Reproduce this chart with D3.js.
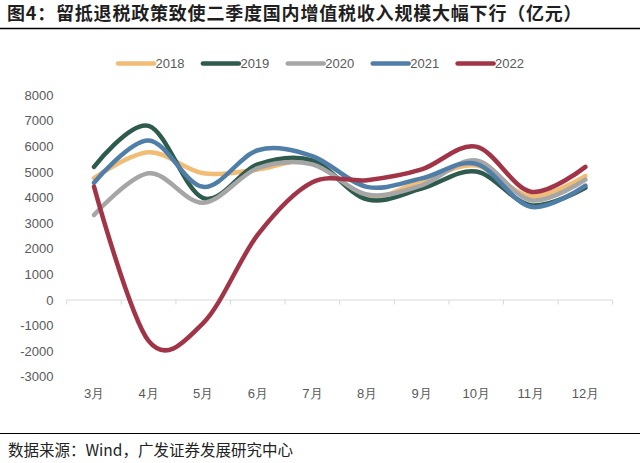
<!DOCTYPE html>
<html>
<head>
<meta charset="utf-8">
<script src="https://cdn.jsdelivr.net/npm/d3@7"></script>
<style>
  body { margin: 0; background: #fff; }
  svg { display: block; }
</style>
</head>
<body>
<script>
var months = ["3月", "4月", "5月", "6月", "7月", "8月", "9月", "10月", "11月", "12月"];
var years = ["2018", "2019", "2020", "2021", "2022"];
var yTicks = [8000, 7000, 6000, 5000, 4000, 3000, 2000, 1000, 0, -1000, -2000, -3000];

var v2018 = [4760, 5770, 4950, 5100, 5400, 4030, 4650, 5250, 4050, 4850];
var v2019 = [5200, 6800, 3980, 5300, 5450, 3930, 4350, 5020, 3700, 4380];
var v2020 = [3320, 4950, 3800, 5150, 5300, 4120, 4480, 5450, 3900, 4700];
var v2021 = [4580, 6230, 4420, 5850, 5620, 4420, 4750, 5320, 3640, 4470];
var v2022 = [4430, -1600, -900, 2550, 4600, 4680, 5100, 5990, 4230, 5200];

var series = [v2018, v2019, v2020, v2021, v2022];
var colors = ["#F1BC76", "#2F5A4E", "#A6A6A6", "#4F7EA8", "#A23447"];

var W = 640, H = 463;

var svg = d3.select("body").append("svg")
    .attr("width", W)
    .attr("height", H);

// title
svg.append("text")
    .attr("x", 7)
    .attr("y", 14)
    .attr("dy", "0.35em")
    .attr("font-family", "'Noto Sans CJK SC', sans-serif")
    .attr("font-weight", "bold")
    .attr("font-size", "18px")
    .attr("letter-spacing", "0.8px")
    .attr("fill", "#1f1f1f")
    .text("图4：留抵退税政策致使二季度国内增值税收入规模大幅下行（亿元）");

svg.append("line")
    .attr("x1", 0).attr("x2", W)
    .attr("y1", 28.5).attr("y2", 28.5)
    .attr("stroke", "#000")
    .attr("stroke-width", 1.5);

// scales
var xScale = d3.scaleBand().domain(months).range([66.7, 612.7]);
var yScale = d3.scaleLinear().domain([-3000, 8000]).range([376.8, 95.2]);

function cx(m) { return xScale(m) + xScale.bandwidth() / 2; }

// y labels
svg.selectAll(".ylab")
    .data(yTicks)
    .enter().append("text")
    .attr("class", "ylab")
    .attr("x", 53.5)
    .attr("y", function(d) { return yScale(d); })
    .attr("dy", "0.35em")
    .attr("text-anchor", "end")
    .attr("font-family", "'Liberation Sans', Arial, sans-serif")
    .attr("font-size", "13px")
    .attr("fill", "#595959")
    .text(function(d) { return d; });

// zero axis with tick marks at category boundaries
var y0 = yScale(0);
svg.append("line")
    .attr("x1", xScale.range()[0]).attr("x2", xScale.range()[1])
    .attr("y1", y0).attr("y2", y0)
    .attr("stroke", "#d9d9d9")
    .attr("stroke-width", 1);

var bounds = months.map(function(m) { return xScale(m); }).concat([xScale.range()[1]]);
svg.selectAll(".xtick")
    .data(bounds)
    .enter().append("line")
    .attr("x1", function(d) { return d; })
    .attr("x2", function(d) { return d; })
    .attr("y1", y0).attr("y2", y0 + 4.5)
    .attr("stroke", "#d9d9d9")
    .attr("stroke-width", 1);

// x labels
svg.selectAll(".xlab")
    .data(months)
    .enter().append("text")
    .attr("x", function(d) { return cx(d); })
    .attr("y", 393)
    .attr("dy", "0.35em")
    .attr("text-anchor", "middle")
    .attr("font-family", "'Liberation Sans', Arial, sans-serif")
    .attr("font-size", "13px")
    .attr("fill", "#595959")
    .text(function(d) { return d; });

// lines
var line = d3.line()
    .x(function(d, i) { return cx(months[i]); })
    .y(function(d) { return yScale(d); })
    .curve(d3.curveCardinal.tension(0));

series.forEach(function(s, k) {
    svg.append("path")
        .datum(s)
        .attr("fill", "none")
        .attr("stroke", colors[k])
        .attr("stroke-width", 4.5)
        .attr("stroke-linecap", "round")
        .attr("stroke-linejoin", "round")
        .attr("d", line);
});

// legend
var legend = svg.selectAll(".leg")
    .data(years)
    .enter().append("g")
    .attr("transform", function(d, i) { return "translate(" + (117 + i * 84.9) + ",63.5)"; });

legend.append("line")
    .attr("x1", 1).attr("x2", 37)
    .attr("y1", 0).attr("y2", 0)
    .attr("stroke", function(d, i) { return colors[i]; })
    .attr("stroke-width", 4.5)
    .attr("stroke-linecap", "round");

legend.append("text")
    .attr("x", 38.5)
    .attr("y", 0)
    .attr("dy", "0.35em")
    .attr("font-family", "'Liberation Sans', Arial, sans-serif")
    .attr("font-size", "13px")
    .attr("fill", "#595959")
    .text(function(d) { return d; });

// footer
svg.append("line")
    .attr("x1", 0).attr("x2", W)
    .attr("y1", 433.5).attr("y2", 433.5)
    .attr("stroke", "#000")
    .attr("stroke-width", 1.2);

svg.append("text")
    .attr("x", 8)
    .attr("y", 451)
    .attr("dy", "0.35em")
    .attr("font-family", "'Noto Sans CJK SC', sans-serif")
    .attr("font-size", "15.5px")
    .attr("fill", "#222")
    .text("数据来源：Wind，广发证券发展研究中心");
</script>
</body>
</html>
